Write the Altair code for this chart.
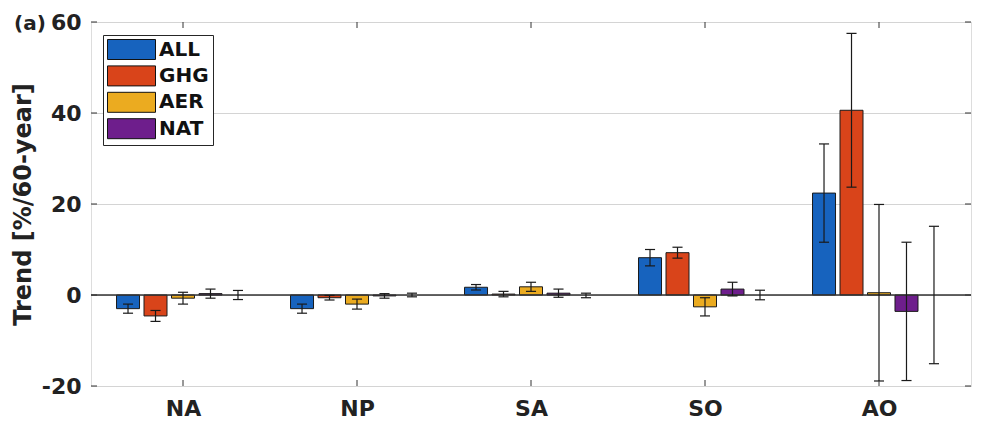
import altair as alt
import pandas as pd

regions = ["NA", "NP", "SA", "SO", "AO"]
series = ["ALL", "GHG", "AER", "NAT", "CTL"]
colors = ["#1763BE", "#D9441A", "#EBAB20", "#6E1E8C"]

# trend values per series (NA, NP, SA, SO, AO)
ALL = [-3.0, -3.0, 1.7, 8.2, 22.4]
GHG = [-4.6, -0.6, 0.2, 9.3, 40.6]
AER = [-0.7, -2.0, 1.8, -2.6, 0.5]
NAT = [0.3, -0.2, 0.4, 1.3, -3.6]
CTL = [0.0, 0.0, -0.1, 0.0, 0.0]

# error bar half-widths
ALL_err = [1.0, 1.0, 0.6, 1.8, 10.8]
GHG_err = [1.2, 0.5, 0.6, 1.2, 16.9]
AER_err = [1.3, 1.1, 1.0, 2.0, 19.4]
NAT_err = [1.0, 0.5, 0.9, 1.5, 15.2]
CTL_err = [1.0, 0.4, 0.5, 1.05, 15.1]

y_ticks = [-20, 0, 20, 40, 60]
panel_label = ["(a)"]

vals = [ALL, GHG, AER, NAT, CTL]
errs = [ALL_err, GHG_err, AER_err, NAT_err, CTL_err]
rows = []
for si, s in enumerate(series):
    for gi, r in enumerate(regions):
        rows.append({"region": r, "gi": gi, "series": s, "si": si,
                     "value": vals[si][gi], "err": errs[si][gi]})
df = pd.DataFrame(rows)

W, H = 880, 364
FONT = "DejaVu Sans"

label_expr = "{" + ",".join(f"'{i+1}':'{r}'" for i, r in enumerate(regions)) + "}[datum.value]"

xscale = alt.Scale(domain=[0.5, 5.5], nice=False, zero=False)
yscale = alt.Scale(domain=[-20, 60], nice=False)

base = alt.Chart(df).transform_calculate(
    xpos="datum.gi + 1 + (datum.si - 2) * 0.158",
    xl="datum.gi + 1 + (datum.si - 2) * 0.158 - 0.029",
    xr="datum.gi + 1 + (datum.si - 2) * 0.158 + 0.029",
    lo="datum.value - datum.err",
    hi="datum.value + datum.err",
)

xenc = alt.X("xpos:Q", scale=xscale, title=None,
             axis=alt.Axis(values=[1, 2, 3, 4, 5], labelExpr=label_expr, ticks=False,
                           domain=False, grid=False, labelFontSize=22, labelFontWeight="bold",
                           labelPadding=12, labelColor="#222", labelFont=FONT))

bars = base.transform_filter("datum.si < 4").mark_bar(
    size=23, stroke="#1a1a1a", strokeWidth=1
).encode(
    x=xenc,
    y=alt.Y("value:Q", scale=yscale, title="Trend [%/60-year]",
            axis=alt.Axis(values=y_ticks, ticks=False, domain=False, grid=True,
                          gridColor="#d4d4d4", gridWidth=1,
                          labelExpr="datum.value + ''",
                          labelFontSize=22, labelFontWeight="bold", labelPadding=10,
                          labelColor="#222", labelFont=FONT,
                          titleFontSize=24, titleFontWeight="bold", titleFont=FONT,
                          titleColor="#222", titlePadding=6)),
    y2=alt.datum(0),
    color=alt.Color("series:N", scale=alt.Scale(domain=series[:4], range=colors),
                    sort=series[:4],
                    legend=alt.Legend(
                        title=None, orient="none", legendX=12, legendY=13,
                        strokeColor="#262626", fillColor="white", padding=4,
                        symbolType="M-1,-1H3.8V1H-1Z", symbolSize=400,
                        symbolStrokeColor="#111", symbolStrokeWidth=1, symbolOpacity=1,
                        labelFontSize=20, labelFontWeight="bold", labelFont=FONT,
                        labelColor="#111", labelOffset=31, rowPadding=1.4,
                    )),
)

zero = alt.Chart(pd.DataFrame({"y": [0]})).mark_rule(color="#333", strokeWidth=1.3).encode(
    y=alt.Y("y:Q", scale=yscale)
)

stems = base.mark_rule(color="#1a1a1a", strokeWidth=1.2).encode(
    x=alt.X("xpos:Q", scale=xscale), y=alt.Y("lo:Q", scale=yscale), y2="hi:Q"
)
cap_lo = base.mark_rule(color="#1a1a1a", strokeWidth=1.2).encode(
    x=alt.X("xl:Q", scale=xscale), x2="xr:Q", y=alt.Y("lo:Q", scale=yscale)
)
cap_hi = base.mark_rule(color="#1a1a1a", strokeWidth=1.2).encode(
    x=alt.X("xl:Q", scale=xscale), x2="xr:Q", y=alt.Y("hi:Q", scale=yscale)
)

xt = pd.DataFrame({"g": [1, 2, 3, 4, 5]})
xticks_b = alt.Chart(xt).mark_rule(color="#333", strokeWidth=1).encode(
    x=alt.X("g:Q", scale=xscale), y=alt.value(H), y2=alt.value(H - 6))
xticks_t = alt.Chart(xt).mark_rule(color="#333", strokeWidth=1).encode(
    x=alt.X("g:Q", scale=xscale), y=alt.value(0), y2=alt.value(6))
yt = pd.DataFrame({"v": y_ticks})
yticks_l = alt.Chart(yt).mark_rule(color="#333", strokeWidth=1).encode(
    y=alt.Y("v:Q", scale=yscale), x=alt.value(0), x2=alt.value(6))
yticks_r = alt.Chart(yt).mark_rule(color="#333", strokeWidth=1).encode(
    y=alt.Y("v:Q", scale=yscale), x=alt.value(W), x2=alt.value(W - 6))

label_a = alt.Chart(pd.DataFrame({"t": panel_label})).mark_text(
    align="left", baseline="middle", fontSize=20, fontWeight="bold", font=FONT, color="#222"
).encode(text="t:N", x=alt.value(-77), y=alt.value(2))

chart = alt.layer(
    bars, zero, stems, cap_lo, cap_hi, xticks_b, xticks_t, yticks_l, yticks_r, label_a
).properties(
    width=W, height=H,
    autosize=alt.AutoSizeParams(type="none"),
    padding={"left": 83, "top": 14, "right": 3, "bottom": 37},
).configure_view(
    stroke="#333", strokeWidth=1.5
).configure(background="white")

chart.save("out.html", embed_options={"renderer": "svg", "actions": False})
